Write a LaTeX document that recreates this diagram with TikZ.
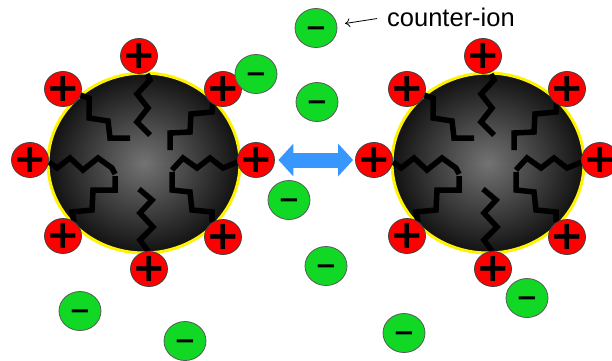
\documentclass[tikz,border=0pt]{standalone}
\usepackage{fontspec}
\setmainfont{Liberation Sans}
\newfontfamily\signfont{DejaVu Sans}
\usetikzlibrary{shapes.geometric}
\usetikzlibrary{arrows.meta}
\definecolor{ionGreen}{RGB}{16,216,36}
\definecolor{arrowBlue}{RGB}{56,150,255}

\begin{document}
\begin{tikzpicture}[x=1pt,y=-1pt]
	\tikzstyle{sign}=[inner sep=0pt,font=\signfont\bfseries]
	\tikzstyle{cation}=[ellipse,draw=black!75,line width=0.8pt,fill=red,minimum width=37pt,minimum height=35pt,inner sep=0pt,
		label={[sign,font=\signfont\bfseries\fontsize{40}{40}\selectfont]center:+}]
	\tikzstyle{anion}=[ellipse,draw=black!65,line width=0.8pt,fill=ionGreen,minimum width=42pt,minimum height=39pt,inner sep=0pt,
		label={[sign,font=\signfont\bfseries\fontsize{26}{26}\selectfont]center:\vphantom{+}−}]
	\tikzstyle{chain}=[line width=5.5pt,line join=miter,miter limit=2]
	\useasboundingbox (0,0) rectangle (612,360);
	\foreach \cx/\s in {144/L,488/R} {
		\node (core\s) [ellipse,minimum width=192pt,minimum height=180pt,draw=yellow,line width=3pt,inner color=black!55,outer color=black!93] at (\cx,163) {};
		\begin{scope}[shift={(\cx-144,0)}]
			\draw[chain] (147,74) -- (150,80) -- (137,94) -- (148,108) -- (137,122) -- (150,135);
			\draw[chain] (80,95) -- (89,98) -- (89,118) -- (108,121) -- (110,138) -- (130,138);
			\draw[chain] (213,101) -- (212,112) -- (191,114) -- (190,132) -- (170,133) -- (170,150);
			\draw[chain] (49,162) -- (57,168) -- (70,158) -- (83,170) -- (98,158) -- (112,168) -- (115,174);
			\draw[chain] (74,222) -- (72,212) -- (92,210) -- (93,190) -- (115,190) -- (115,176);
			\draw[chain] (238,162) -- (223,168) -- (210,158) -- (197,168) -- (183,158) -- (172,170);
			\draw[chain] (212,222) -- (212,212) -- (192,210) -- (190,192) -- (172,190) -- (172,172);
			\draw[chain] (139,189) -- (152,200) -- (140,213) -- (153,227) -- (140,240) -- (148,251);
		\end{scope}
		\node (\s1) [cation] at (\cx-5,56) {};
		\node (\s2) [cation] at (\cx-81,89) {};
		\node (\s3) [cation] at (\cx+79,89) {};
		\node (\s4) [cation] at (\cx-114,160) {};
		\node (\s5) [cation] at (\cx+112,160) {};
		\node (\s6) [cation] at (\cx-81,236) {};
		\node (\s7) [cation] at (\cx+79,237) {};
		\node (\s8) [cation] at (\cx+5,269) {};
	}
	\draw[{Triangle[length=15pt,width=32pt]}-{Triangle[length=15pt,width=32pt]}, line width=15pt, arrowBlue, shorten <=3.5pt, shorten >=2pt] (L5) -- (R4);
	% counter-ions
	\node (m1) [anion] at (316,28) {};
	\node (m2) [anion] at (256,74) {};
	\node (m3) [anion] at (317,102) {};
	\node (m4) [anion] at (289,200) {};
	\node (m5) [anion] at (326,266) {};
	\node (m6) [anion] at (80,311) {};
	\node (m7) [anion] at (185,341) {};
	\node (m8) [anion] at (404,333) {};
	\node (m9) [anion] at (527,298) {};
	\node (note) [anchor=west,inner sep=0pt,font=\fontsize{25.5}{26}\selectfont] at (387,17) {counter-ion};
	\draw[-{To[length=5pt,width=9pt]}, line width=0.8pt, shorten <=10pt, shorten >=8pt] (note.west) -- (m1);
\end{tikzpicture}
\end{document}
